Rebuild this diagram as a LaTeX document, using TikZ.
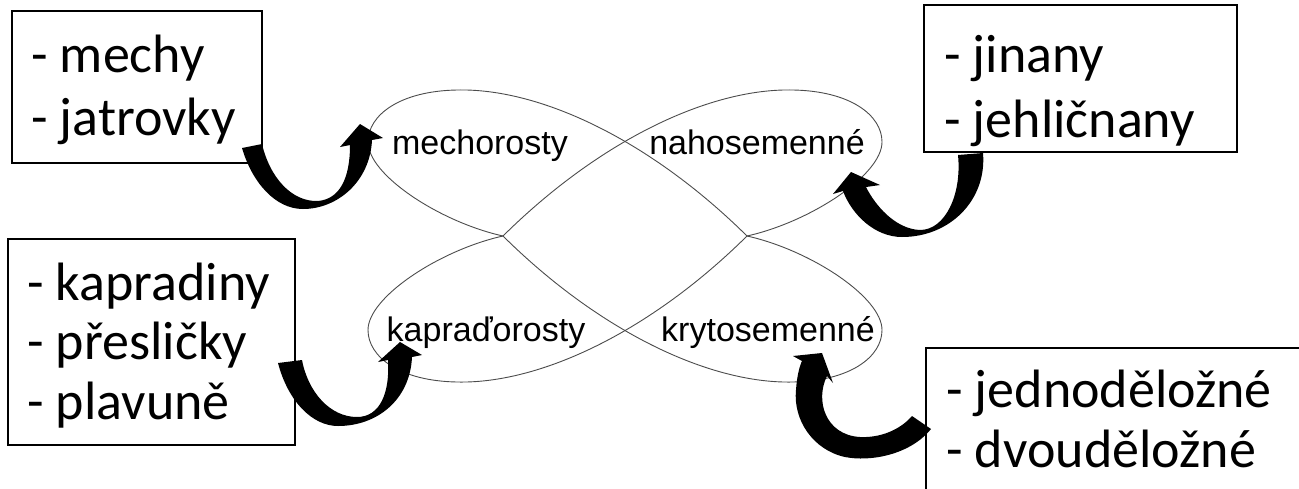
\documentclass[tikz,border=0pt]{standalone}
\usepackage{fontspec}
\setmainfont{Carlito}
\newfontfamily\arialfont{Liberation Sans}

\begin{document}
\begin{tikzpicture}[x=1pt, y=-1pt,
	box/.style = {draw, line width=2pt, anchor=north west, inner sep=0pt},
	item/.style = {anchor=base west, inner sep=0pt, font=\fontsize{54}{64}\selectfont},
	petal/.style = {draw=black!70, line width=0.9pt},
	group/.style = {anchor=base, inner sep=0pt, font=\arialfont\fontsize{34}{40}\selectfont},
	blockarrow/.style = {fill=black}]
\useasboundingbox (0,0) rectangle (1299,488);

% the four petals
\draw[petal] (747,236) .. controls (650,140) and (540,88) .. (457,90)
	.. controls (400,91) and (368,115) .. (368,142)
	.. controls (368,175) and (440,222) .. (503,236);
\draw[petal] (503,236) .. controls (600,140) and (710,88) .. (793,90)
	.. controls (850,91) and (882,115) .. (882,142)
	.. controls (882,175) and (810,222) .. (747,236);
\draw[petal] (747,236) .. controls (650,332) and (540,384) .. (457,382)
	.. controls (400,381) and (368,357) .. (368,330)
	.. controls (368,297) and (440,250) .. (503,236);
\draw[petal] (503,236) .. controls (600,332) and (710,384) .. (793,382)
	.. controls (850,381) and (882,357) .. (882,330)
	.. controls (882,297) and (810,250) .. (747,236);

\node[group] (mechorosty) at (480,154) {mechorosty};
\node[group] (nahosemenne) at (757,154) {nahosemenné};
\node[group] (kapradorosty) at (486,341) {kapraďorosty};
\node[group] (krytosemenne) at (768,341) {krytosemenné};

% boxes
\node[box, minimum width=250pt, minimum height=152pt] (mechbox) at (11,10) {};
\node[item] (mechy) at (31,72) {- mechy};
\node[item] (jatrovky) at (31,135) {- jatrovky};

\node[box, minimum width=313pt, minimum height=147pt] (jinbox) at (923,4) {};
\node[item] (jinany) at (944,72) {- jinany};
\node[item] (jehlicnany) at (944,137) {- jehličnany};

\node[box, minimum width=287pt, minimum height=206pt] (kapbox) at (7,238) {};
\begin{scope}
	\clip (7,238) rectangle (294,432);
	\node[item] (kapradiny) at (27,300) {- kapradiny};
	\node[item] (preslicky) at (27,359) {- přesličky};
	\node[item] (plavune) at (27,419) {- plavuně};
\end{scope}

\node[box, minimum width=400pt, minimum height=160pt] (dvoubox) at (925,347) {};
\node[item] (jednodelozne) at (946,407) {- jednoděložné};
\node[item] (dvoudelozne) at (946,467) {- dvouděložné};

% curved arrows
\fill[blockarrow] (242,148) .. controls (252,182) and (275,209) .. (303,209)
	.. controls (337,209) and (370,182) .. (372,140)
	-- (383,138) -- (360,124) -- (340,147) -- (350,145)
	.. controls (350,178) and (340,199) .. (318,201)
	.. controls (292,202) and (270,178) .. (262,144) -- cycle;
\fill[blockarrow] (983,153) .. controls (987,200) and (950,237) .. (902,237)
	.. controls (875,237) and (852,215) .. (843,191)
	-- (833,194) -- (851,172) -- (880,185) -- (866,187)
	.. controls (875,205) and (895,229) .. (920,230)
	.. controls (945,230) and (962,195) .. (958,155) -- cycle;
\fill[blockarrow] (278,363) .. controls (288,401) and (312,426) .. (338,426)
	.. controls (377,426) and (410,400) .. (412,357)
	-- (422,355) -- (400,342) -- (378,362) -- (388,360)
	.. controls (390,393) and (380,417) .. (357,417)
	.. controls (330,417) and (308,392) .. (302,360) -- cycle;
\fill[blockarrow] (931,429) .. controls (910,455) and (870,462) .. (845,457)
	.. controls (813,450) and (793,420) .. (796,390)
	.. controls (797,375) and (800,365) .. (802,361)
	-- (793,356) -- (822,353) -- (833,383) -- (827,376)
	.. controls (815,400) and (825,435) .. (860,437)
	.. controls (880,438) and (900,430) .. (912,416) -- cycle;
\end{tikzpicture}
\end{document}
